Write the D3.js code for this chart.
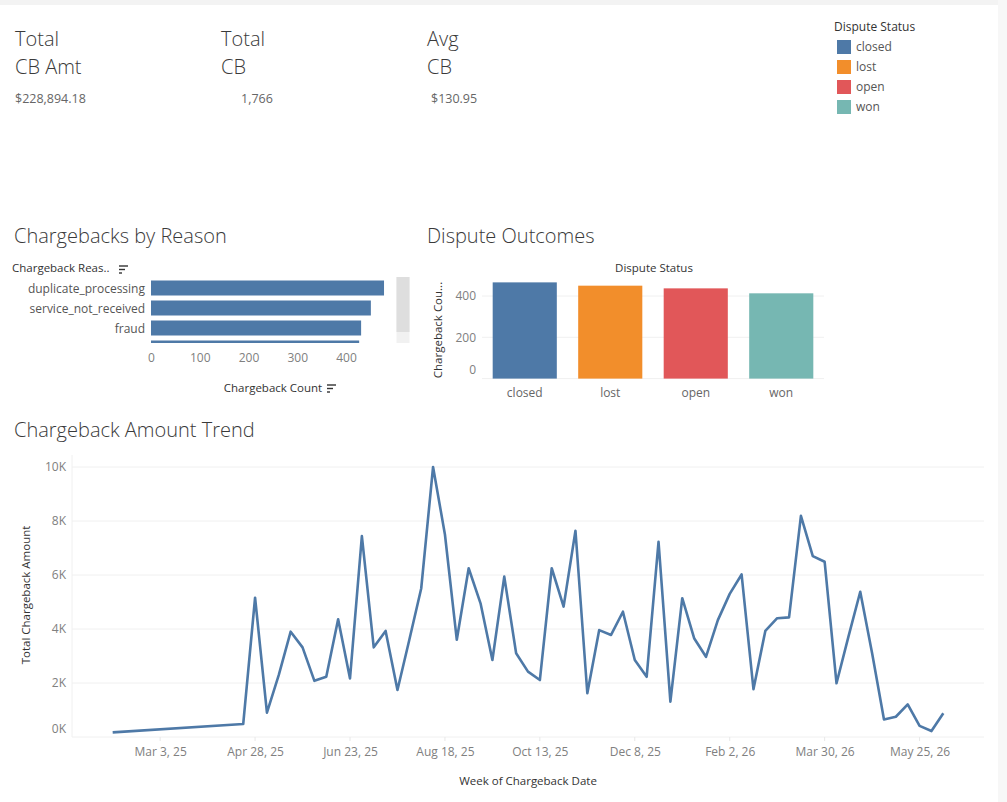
<!DOCTYPE html>
<html><head><meta charset="utf-8">
<script src="https://cdn.jsdelivr.net/npm/d3@7"></script>
<style>
html,body{margin:0;padding:0;background:#fff;}
svg{display:block;font-family:"Open Sans",sans-serif;}
</style></head>
<body><svg id="c" width="1007" height="802"></svg>
<script>
// ---- data ----
const kpiTitles = [["Total","CB Amt"],["Total","CB"],["Avg","CB"]];
const kpiValues = ["$228,894.18","1,766","$130.95"];

const statusNames = ["closed","lost","open","won"];
const statusColors = ["#4e79a7","#f28e2b","#e15759","#76b7b2"];
const statusCounts = [466, 450, 437, 413];

const reasonNames = ["duplicate_processing","service_not_received","fraud","product_unacceptable"];
const reasonCounts = [478, 451, 431, 427];
const reasonTicks = [0,100,200,300,400];

const weekDates = ["2025-02-03","2025-04-21","2025-04-28","2025-05-05","2025-05-12","2025-05-19","2025-05-26",
"2025-06-02","2025-06-09","2025-06-16","2025-06-23","2025-06-30","2025-07-07","2025-07-14","2025-07-21","2025-07-28",
"2025-08-04","2025-08-11","2025-08-18","2025-08-25","2025-09-01","2025-09-08","2025-09-15","2025-09-22","2025-09-29",
"2025-10-06","2025-10-13","2025-10-20","2025-10-27","2025-11-03","2025-11-10","2025-11-17","2025-11-24","2025-12-01",
"2025-12-08","2025-12-15","2025-12-22","2025-12-29","2026-01-05","2026-01-12","2026-01-19","2026-01-26","2026-02-02",
"2026-02-09","2026-02-16","2026-02-23","2026-03-02","2026-03-09","2026-03-16","2026-03-23","2026-03-30","2026-04-06",
"2026-04-13","2026-04-20","2026-04-27","2026-05-04","2026-05-11","2026-05-18","2026-05-25","2026-06-01","2026-06-08"];
const weekAmounts = [170,480,5160,900,2300,3900,3320,2080,2230,4360,2170,7440,3320,3930,1740,3600,5500,10000,7500,3600,
6250,4950,2850,5940,3100,2420,2110,6250,4830,7640,1620,3960,3780,4640,2850,2230,7230,1310,5140,3660,2970,4330,5300,6020,
1770,3930,4400,4430,8190,6700,6490,1990,3710,5380,3100,650,750,1210,410,220,880];
const trendTickDates = ["2025-03-03","2025-04-28","2025-06-23","2025-08-18","2025-10-13","2025-12-08","2026-02-02","2026-03-30","2026-05-25"];
const trendTickLabels = ["Mar 3, 25","Apr 28, 25","Jun 23, 25","Aug 18, 25","Oct 13, 25","Dec 8, 25","Feb 2, 26","Mar 30, 26","May 25, 26"];
const amountTicks = [0,2000,4000,6000,8000,10000];

// ---- drawing ----
const svg = d3.select("#c");
const TXT = "#333", TICK = "#808080";
const parse = d3.timeParse("%Y-%m-%d");

svg.append("rect").attr("x",0).attr("y",0).attr("width",1007).attr("height",5).attr("fill","#f3f3f3");
svg.append("rect").attr("x",998).attr("y",0).attr("width",9).attr("height",802).attr("fill","#f7f7f7");

function title(x,y,t){
  return svg.append("text").attr("x",x).attr("y",y).attr("font-size",20).attr("font-weight",300)
    .attr("fill","#3a3a3a").text(t);
}

// KPIs
const kpiX = [15,221,427], kpiValX = [15,241,431];
kpiTitles.forEach((t,i)=>{
  title(kpiX[i],46,t[0]);
  title(kpiX[i],74,t[1]);
  svg.append("text").attr("x",kpiValX[i]).attr("y",103).attr("font-size",12.5).attr("fill","#666").text(kpiValues[i]);
});

// Legend
svg.append("text").attr("x",834).attr("y",31).attr("font-size",12).attr("font-weight",500).attr("fill",TXT).text("Dispute Status");
const lg = svg.append("g").selectAll("g").data(statusNames).join("g")
  .attr("transform",(d,i)=>`translate(837,${40+i*20})`);
lg.append("rect").attr("width",14).attr("height",14).attr("fill",(d,i)=>statusColors[i]);
lg.append("text").attr("x",19).attr("y",11).attr("font-size",12).attr("fill","#555").text(d=>d);

// sort icon helper
function sortIcon(x,y){
  const g = svg.append("g").attr("stroke","#333").attr("stroke-width",1.4);
  [9,6,3].forEach((w,i)=>g.append("line").attr("x1",x).attr("x2",x+w).attr("y1",y+i*3.5).attr("y2",y+i*3.5));
}

// Chargebacks by Reason
title(14,243,"Chargebacks by Reason");
svg.append("text").attr("x",12).attr("y",272).attr("font-size",11.5).attr("font-weight",500).attr("fill",TXT).text("Chargeback Reas..");
sortIcon(119,266);
const rx = d3.scaleLinear().domain([0,500]).range([151,394.75]);
const ry = d3.scaleBand().domain(reasonNames).range([278,358]).paddingInner(0.25).paddingOuter(0.125);
svg.append("defs").append("clipPath").attr("id","rclip").append("rect").attr("x",0).attr("y",277).attr("width",395).attr("height",66);
const rg = svg.append("g").attr("clip-path","url(#rclip)");
rg.selectAll("rect").data(reasonNames).join("rect")
  .attr("x",rx(0)).attr("y",d=>ry(d)).attr("height",ry.bandwidth())
  .attr("width",(d,i)=>rx(reasonCounts[i])-rx(0)).attr("fill","#4e79a7");
rg.selectAll("text").data(reasonNames).join("text")
  .attr("x",145).attr("y",d=>ry(d)+ry.bandwidth()/2+4.5).attr("text-anchor","end")
  .attr("font-size",12).attr("fill","#555").text(d=>d);
// scrollbar
svg.append("rect").attr("x",396.5).attr("y",277).attr("width",13).attr("height",66).attr("fill","#f1f1f1");
svg.append("rect").attr("x",396.5).attr("y",277).attr("width",13).attr("height",55).attr("fill","#dedede");
const rax = d3.axisBottom(rx).tickValues(reasonTicks).tickSize(0).tickPadding(0);
const rAxis = svg.append("g").attr("transform","translate(0,353)").call(rax);
rAxis.select(".domain").remove();
rAxis.selectAll("text").attr("font-size",12).attr("fill",TICK).attr("font-family","Open Sans").attr("dy","0.75em");
svg.append("text").attr("x",273).attr("y",392).attr("text-anchor","middle").attr("font-size",11.5).attr("font-weight",500).attr("fill",TXT).text("Chargeback Count");
sortIcon(327,385);

// Dispute Outcomes
title(427,243,"Dispute Outcomes");
svg.append("text").attr("x",654).attr("y",272).attr("text-anchor","middle").attr("font-size",11.5).attr("font-weight",500).attr("fill",TXT).text("Dispute Status");
const dx = d3.scaleBand().domain(statusNames).range([482,824]).paddingInner(0.25).paddingOuter(0.125);
const dy = d3.scaleLinear().domain([0,500]).range([378.6,275.35]);
svg.append("g").selectAll("line").data([0,200,400]).join("line")
  .attr("x1",482).attr("x2",824).attr("y1",d=>dy(d)).attr("y2",d=>dy(d)).attr("stroke","#f0f0f0");
svg.append("g").selectAll("rect").data(statusNames).join("rect")
  .attr("x",d=>dx(d)).attr("width",dx.bandwidth())
  .attr("y",(d,i)=>dy(statusCounts[i])).attr("height",(d,i)=>dy(0)-dy(statusCounts[i]))
  .attr("fill",(d,i)=>statusColors[i]);
const dAxis = svg.append("g").attr("transform","translate(476,0)").call(d3.axisLeft(dy).tickValues([0,200,400]).tickSize(0).tickPadding(0));
dAxis.select(".domain").remove();
dAxis.selectAll("text").attr("font-size",12).attr("fill",TICK).attr("font-family","Open Sans")
  .attr("dy",d=>d===0?"-0.4em":"0.32em");
const dxAxis = svg.append("g").attr("transform","translate(0,388)").call(d3.axisBottom(dx).tickSize(0).tickPadding(0));
dxAxis.select(".domain").remove();
dxAxis.selectAll("text").attr("font-size",12).attr("fill","#666").attr("font-family","Open Sans").attr("dy","0.75em");
svg.append("text").attr("transform","translate(442,330) rotate(-90)").attr("text-anchor","middle")
  .attr("font-size",11.5).attr("fill",TXT).text("Chargeback Cou...");

// Chargeback Amount Trend
title(14,437,"Chargeback Amount Trend");
const tx = d3.scaleTime().domain([parse("2025-01-10"),parse("2026-07-02")]).range([72,984]);
const ty = d3.scaleLinear().domain([0,10000]).range([737,467]);
svg.append("g").selectAll("line").data(amountTicks).join("line")
  .attr("x1",72).attr("x2",984).attr("y1",d=>ty(d)).attr("y2",d=>ty(d)).attr("stroke","#f0f0f0");
svg.append("line").attr("x1",72).attr("x2",72).attr("y1",455).attr("y2",737).attr("stroke","#f0f0f0");
const yAxis = svg.append("g").attr("transform","translate(66,0)")
  .call(d3.axisLeft(ty).tickValues(amountTicks).tickFormat(d=>(d/1000)+"K").tickSize(0).tickPadding(0));
yAxis.select(".domain").remove();
yAxis.selectAll("text").attr("font-size",12).attr("fill",TICK).attr("font-family","Open Sans")
  .attr("dy",d=>d===0?"-0.4em":"0.32em");
const tickDates = trendTickDates.map(parse);
svg.append("g").selectAll("line").data(tickDates).join("line")
  .attr("x1",d=>tx(d)).attr("x2",d=>tx(d)).attr("y1",737).attr("y2",741).attr("stroke","#e8e8e8");
const xAxis = svg.append("g").attr("transform","translate(0,747)")
  .call(d3.axisBottom(tx).tickValues(tickDates).tickFormat((d,i)=>trendTickLabels[i]).tickSize(0).tickPadding(0));
xAxis.select(".domain").remove();
xAxis.selectAll("text").attr("font-size",12).attr("fill",TICK).attr("font-family","Open Sans").attr("dy","0.75em");
svg.append("text").attr("x",528).attr("y",785).attr("text-anchor","middle").attr("font-size",11.5).attr("font-weight",500).attr("fill",TXT).text("Week of Chargeback Date");
svg.append("text").attr("transform","translate(30,595) rotate(-90)").attr("text-anchor","middle")
  .attr("font-size",11.5).attr("fill",TXT).text("Total Chargeback Amount");
const pts = weekDates.map((d,i)=>[parse(d),weekAmounts[i]]);
svg.append("path").datum(pts)
  .attr("d",d3.line().x(d=>tx(d[0])).y(d=>ty(d[1])))
  .attr("fill","none").attr("stroke","#4e79a7").attr("stroke-width",2.6).attr("stroke-linejoin","round");
</script></body></html>
